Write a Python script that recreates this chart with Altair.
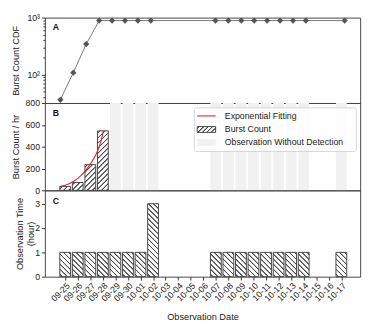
import json
import math
import altair as alt

# ---------------- data ----------------
dates = ["09-25", "09-26", "09-27", "09-28", "09-29", "09-30", "10-01", "10-02",
         "10-03", "10-04", "10-05", "10-06", "10-07", "10-08", "10-09", "10-10",
         "10-11", "10-12", "10-13", "10-14", "10-15", "10-16", "10-17"]
obs_hours = [1, 1, 1, 1, 1, 1, 1, 3, 0, 0, 0, 0, 1, 1, 1, 1, 1, 1, 1, 1, 0, 0, 1]

burst_dates = ["09-25", "09-26", "09-27", "09-28"]
burst_rate = [36, 72, 235, 545]

cdf_dates = ["09-25", "09-26", "09-27", "09-28", "09-29", "09-30", "10-01", "10-02",
             "10-07", "10-08", "10-09", "10-10", "10-11", "10-12", "10-13", "10-14", "10-17"]
cdf_values = [36, 108, 343, 888, 888, 888, 888, 888,
              888, 888, 888, 888, 888, 888, 888, 888, 888]

no_detect_dates = ["09-29", "09-30", "10-01", "10-02", "10-07", "10-08", "10-09",
                   "10-10", "10-11", "10-12", "10-13", "10-14", "10-17"]

# exponential fitting curve (day offset from 09-25, rate)
fit_day = [-0.36, 0.0, 0.5, 1.0, 1.5, 2.0, 2.5, 2.8, 3.05]
fit_rate = [36, 47, 72, 110, 165, 240, 340, 430, 548]

rate_tick_count = 4          # gives 0, 200, 400, 600, 800
hour_ticks = [0, 1, 2, 3]
legend_labels = ["Exponential Fitting", "Burst Count", "Observation Without Detection"]

# ---------------- layout ----------------
W = 325
HA, HB, HC = 88, 90, 89
XDOM_A = [-1.2, 23.2]
XDOM_BC = [-1.62, 23.5]
HALF = 0.43
PPU = W / (XDOM_BC[1] - XDOM_BC[0])
YB_MAX = 800
YC_MAX = 3.55
FONT = "Liberation Sans"
HATCH_COL = "#4d4d4d"
EDGE = "#444444"
RED = "#d62728"
STRIP = "#f1f1f1"


def hatch(w, h, direction, p=3.7):
    """Linear gradient imitating a 45 degree hatch on a w x h px rectangle."""
    L = (w + h) / math.sqrt(2)
    a = (w + h) / (w * w + h * h)
    if direction == "/":
        x1, y1, x2, y2 = 0, 0, a * w, a * h
    else:
        x1, y1, x2, y2 = 0, 1, a * w, 1 - a * h
    stops = [{"offset": 0, "color": "#ffffff"}]
    s = p * 0.5
    while s - 0.8 < L:
        for off, col in [(s - 0.75, "#ffffff"), (s - 0.3, HATCH_COL),
                         (s + 0.3, HATCH_COL), (s + 0.75, "#ffffff")]:
            t = min(max(off / L, 0.0), 1.0)
            stops.append({"offset": round(t, 5), "color": col})
        s += p
    stops.append({"offset": 1, "color": "#ffffff"})
    return {"gradient": "linear", "x1": x1, "y1": y1, "x2": x2, "y2": y2, "stops": stops}


bar_w_px = 2 * HALF * PPU
one = alt.Data(values=[{}])

# ---------------- panel A ----------------
a_vals = [{"i": dates.index(d), "v": v} for d, v in zip(cdf_dates, cdf_values)]
a_data = alt.Data(values=a_vals)
minor = [40, 50, 60, 70, 80, 90, 200, 300, 400, 500, 600, 700, 800, 900]
xA = alt.X("i:Q", scale=alt.Scale(domain=XDOM_A, nice=False, zero=False), axis=None)
yA = alt.Y("v:Q",
           scale=alt.Scale(type="log", domain=[31.6, 1000], nice=False),
           axis=alt.Axis(values=minor + [100, 1000],
                         labelExpr="datum.value == 1000 ? '10³' : (datum.value == 100 ? '10²' : '')",
                         tickSize={"condition": {"test": "datum.value == 100 || datum.value == 1000",
                                                 "value": 3.5}, "value": 2},
                         title="Burst Count CDF", titleX=-30, titleY=HA / 2,
                         titleAngle=270, titleAlign="center", titleBaseline="middle"))
lineA = alt.Chart(a_data).mark_line(color="#777777", strokeWidth=1).encode(x=xA, y=yA)
ptsA = alt.Chart(a_data).mark_point(shape="diamond", filled=True, color="#555555",
                                    size=42, opacity=1).encode(x=xA, y=yA)
labA = alt.Chart(alt.Data(values=[{"t": "A"}])).mark_text(
    font=FONT, fontSize=9, fontWeight="bold", align="left", baseline="alphabetic", color="#111"
).encode(text="t:N", x=alt.value(8), y=alt.value(13))
panelA = alt.layer(lineA, ptsA, labA).properties(width=W, height=HA)

# ---------------- panel B ----------------
xBC = alt.Scale(domain=XDOM_BC, nice=False, zero=False)
yBscale = alt.Scale(domain=[0, YB_MAX], nice=False)
strip_data = alt.Data(values=[{"i": dates.index(d)} for d in no_detect_dates])
strips = alt.Chart(strip_data).mark_rect(color=STRIP).transform_calculate(
    x0=f"datum.i - {HALF}", x1=f"datum.i + {HALF}"
).encode(x=alt.X("x0:Q", scale=xBC, axis=None), x2="x1:Q",
         y=alt.value(0), y2=alt.value(HB))

b_vals = []
for d, v in zip(burst_dates, burst_rate):
    b_vals.append({"i": dates.index(d), "v": v,
                   "grad": hatch(bar_w_px, v * HB / YB_MAX, "/")})
yB = alt.Y("v:Q", scale=yBscale,
           axis=alt.Axis(tickCount=rate_tick_count, labelOverlap=False, tickSize=3.5,
                         title="Burst Count / hr", titleX=-30, titleY=HB / 2,
                         titleAngle=270, titleAlign="center", titleBaseline="middle"))
barsB = alt.Chart(alt.Data(values=b_vals)).mark_rect(stroke=EDGE, strokeWidth=1).transform_calculate(
    x0=f"datum.i - {HALF}", x1=f"datum.i + {HALF}"
).encode(x=alt.X("x0:Q", scale=xBC, axis=None), x2="x1:Q", y=yB, y2=alt.datum(0),
         fill=alt.Fill("grad:N", scale=None))

fit_data = alt.Data(values=[{"i": x, "v": v} for x, v in zip(fit_day, fit_rate)])
fitB = alt.Chart(fit_data).mark_line(color=RED, strokeWidth=1.1, interpolate="monotone").encode(
    x=alt.X("i:Q", scale=xBC, axis=None), y=alt.Y("v:Q", scale=yBscale, axis=None))

LX0, LX1, LY0, LY1 = 154, 321, 5, 50
SX0, SX1, TX = 157, 176, 185.5
rows = [13.3, 27.3, 40.7]
legBox = alt.Chart(one).mark_rect(fill="white", fillOpacity=0.85, stroke="#cccccc",
                                  strokeWidth=0.8, cornerRadius=2).encode(
    x=alt.value(LX0), x2=alt.value(LX1), y=alt.value(LY0), y2=alt.value(LY1))
legLine = alt.Chart(one).mark_rule(color=RED, strokeWidth=1.1).encode(
    x=alt.value(SX0), x2=alt.value(SX1), y=alt.value(rows[0]))
legHatch = alt.Chart(one).mark_rect(fill=hatch(SX1 - SX0, 6, "/", p=3.2), stroke=EDGE,
                                    strokeWidth=1).encode(
    x=alt.value(SX0), x2=alt.value(SX1), y=alt.value(rows[1] - 3), y2=alt.value(rows[1] + 3))
legGrey = alt.Chart(one).mark_rect(color=STRIP).encode(
    x=alt.value(SX0), x2=alt.value(SX1), y=alt.value(rows[2] - 3.5), y2=alt.value(rows[2] + 3.5))
legTexts = [
    alt.Chart(alt.Data(values=[{"t": t}])).mark_text(
        font=FONT, fontSize=9, align="left", baseline="middle", color="#222"
    ).encode(text="t:N", x=alt.value(TX), y=alt.value(r))
    for t, r in zip(legend_labels, rows)
]
labB = alt.Chart(alt.Data(values=[{"t": "B"}])).mark_text(
    font=FONT, fontSize=9, fontWeight="bold", align="left", baseline="alphabetic", color="#111"
).encode(text="t:N", x=alt.value(8), y=alt.value(13))
panelB = alt.layer(strips, barsB, fitB, legBox, legLine, legHatch, legGrey, *legTexts, labB
                   ).resolve_axis(y="independent").properties(width=W, height=HB)

# ---------------- panel C ----------------
c_vals = []
for i, h in enumerate(obs_hours):
    if h > 0:
        c_vals.append({"i": i, "h": h, "grad": hatch(bar_w_px, h * HC / YC_MAX, "\\")})
label_expr = json.dumps(dates) + "[datum.value]"
xC = alt.X("x0:Q", scale=xBC,
           axis=alt.Axis(values=list(range(len(dates))), labelExpr=label_expr,
                         labelAngle=315, labelAlign="right", labelBaseline="top",
                         labelOverlap=False, labelFontSize=9, labelPadding=1,
                         tickSize=3.5, title="Observation Date", titlePadding=9))
yC = alt.Y("h:Q", scale=alt.Scale(domain=[0, YC_MAX], nice=False),
           axis=alt.Axis(values=hour_ticks, tickSize=3.5, labelOverlap=False,
                         title=["Observation Time", "(hour)"], titleX=-26, titleY=HC / 2,
                         titleAngle=270, titleAlign="center", titleBaseline="middle",
                         titleLineHeight=11))
barsC = alt.Chart(alt.Data(values=c_vals)).mark_rect(stroke=EDGE, strokeWidth=1).transform_calculate(
    x0=f"datum.i - {HALF}", x1=f"datum.i + {HALF}"
).encode(x=xC, x2="x1:Q", y=yC, y2=alt.datum(0), fill=alt.Fill("grad:N", scale=None))
labC = alt.Chart(alt.Data(values=[{"t": "C"}])).mark_text(
    font=FONT, fontSize=9, fontWeight="bold", align="left", baseline="alphabetic", color="#111"
).encode(text="t:N", x=alt.value(8), y=alt.value(14))
panelC = alt.layer(barsC, labC).properties(width=W, height=HC)

chart = alt.vconcat(panelA, panelB, panelC, spacing=0, bounds="flush").properties(
    padding={"left": 2, "top": 0, "right": 5, "bottom": 2}
).configure_view(stroke="#444444", strokeWidth=1).configure_axis(
    labelFont=FONT, labelFontSize=9, labelColor="#222222", tickColor="#333333",
    labelOverlap=False, labelBound=False,
    domain=False, grid=False, titleFont=FONT, titleFontSize=9.5,
    titleFontWeight="normal", titleColor="#222222"
)

chart.save("out.html", embed_options={"renderer": "svg", "actions": False})
